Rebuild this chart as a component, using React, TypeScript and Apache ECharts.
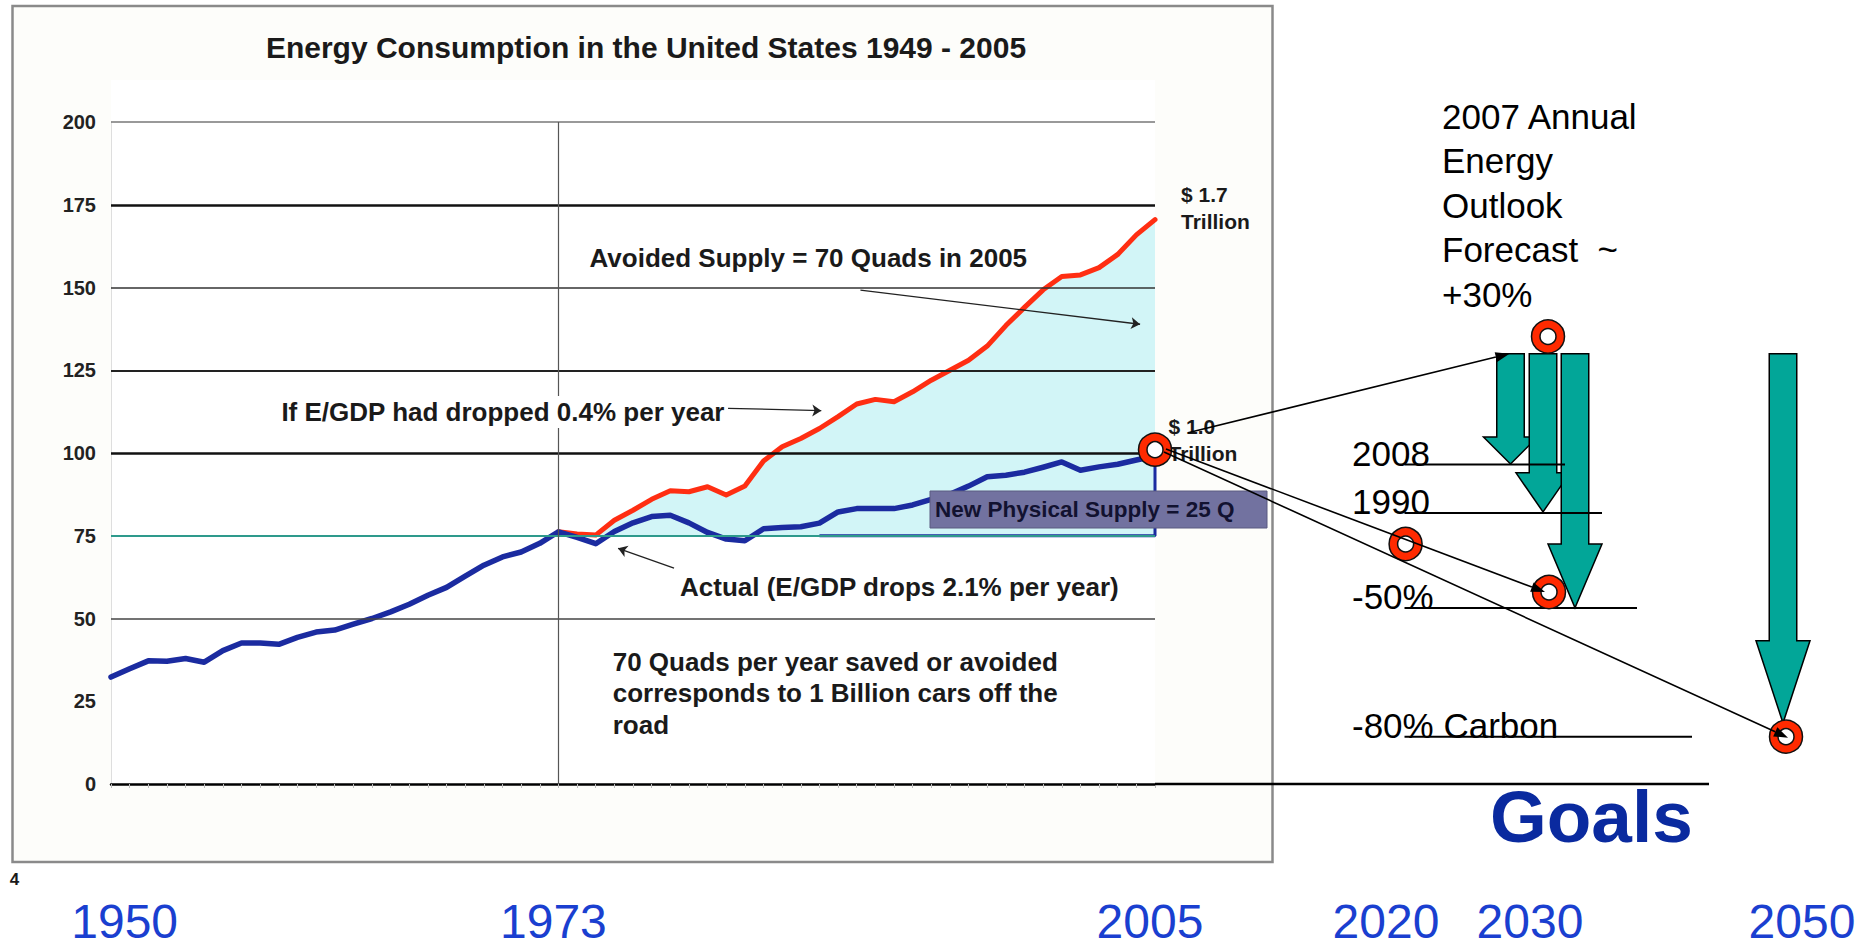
import React, { useEffect, useRef } from 'react';
import * as echarts from 'echarts';

const FONT = "'Liberation Sans', Arial, Helvetica, sans-serif";

// U.S. energy consumption in Quads, one value per year starting 1949
const firstYear = 1949;
const actualUse = [
  32.3, 34.8, 37.2, 37.1, 37.9, 36.8, 40.3, 42.6, 42.6, 42.2,
  44.3, 45.9, 46.5, 48.3, 50.0, 52.0, 54.3, 57.0, 59.4, 62.8,
  66.1, 68.6, 70.1, 72.7, 76.2, 74.5, 72.6, 76.3, 78.9, 80.8,
  81.2, 78.9, 76.0, 74.0, 73.5, 77.1, 77.5, 77.7, 78.8, 82.2,
  83.2, 83.2, 83.2, 84.3, 86.0, 87.5, 90.0, 92.8, 93.3, 94.2,
  95.7, 97.3, 94.8, 95.8, 96.6, 97.9, 99.1,
];

// Consumption from 1973 on if E/GDP had dropped only 0.4% per year
const projectionStartYear = 1973;
const projectedUse = [
  76.2, 75.5, 75.2, 79.7, 82.7, 86.0, 88.6, 88.3, 89.8, 87.3,
  90.0, 97.6, 101.9, 104.4, 107.4, 111.0, 114.8, 116.2, 115.5, 118.5,
  122.0, 125.0, 128.0, 132.3, 138.5, 144.0, 149.3, 153.3, 153.8, 156.0,
  160.0, 165.9, 170.5,
];

// 1973 supply level and the year the new-supply band starts
const supplyBase = 75;
const newSupplyFromYear = 1987;

// Horizontal reference lines across the plot, and the 1973 divider
const gridLevels = [200, 175, 150, 125, 100, 75, 50];
const dividerYear = 1973;

// Year labels under the chart
const historyYearLabels = [1950, 1973, 2005];
const goalYearLabels = ['2020', '2030', '2050'];

// Annotation arrows inside the plot: from [year, Quads] to [year, Quads]
const annotationArrows = [
  [[1989.2, 149.2], [2004.2, 138.9]],
  [[1982.1, 113.5], [1987.1, 112.8]],
  [[1979.2, 65.2], [1976.2, 71.2]],
];

// Marked value at the end of the actual curve
const currentMark = [2005, 101];

// Goals diagram, on the same Quads scale
const forecastLevel = 130;
const forecastMarkLevel = 135.2;
const goalNames = ['2008', '1990', '-50%', '-80% Carbon'];
const goalLevels = [96.5, 81.9, 53.2, 14.3];
const arrowNeckLevels = [104.8, 94.0, 72.5, 43.3];
const arrowTipLevels = [96.7, 82.2, 53.2, 18.4];
const goalMarkLevels = [72.5, 58.0, 14.3];

// Layout of the page around the plot (pixels)
const L = {
  frame: { x: 12.5, y: 6, w: 1260, h: 856 },
  arrowX: [1510.5, 1543, 1575, 1783],
  shaftW: 27.5,
  headW: 54,
  goalLabelX: 1352,
  goalRuleX0: 1404.5,
  goalRuleX1: [1565, 1602, 1637, 1692],
  goalMarkX: [1405.6, 1549, 1786],
  forecastMarkX: 1548,
  goalYearX: [1386, 1530, 1802],
  yearLabelY: 921,
  axisExtendTo: 1709,
};

const gridStyles = [
  { color: '#777', width: 1.5, type: 'solid' },
  { color: '#111', width: 2.5, type: 'solid' },
  { color: '#333', width: 1.5, type: 'solid' },
  { color: '#222', width: 2, type: 'solid' },
  { color: '#111', width: 2.5, type: 'solid' },
  { color: '#2e9a8c', width: 2, type: 'solid' },
  { color: '#444', width: 1.5, type: 'solid' },
];

const BLUE_LINE = '#1b2ba0';
const RED_LINE = '#ff2e12';
const YEAR_BLUE = '#1a3fd0';
const YEAR_SIZE = 48;

const lastYear = firstYear + actualUse.length - 1;
const actualPts = actualUse.map((v, i) => [firstYear + i, v]);
const projectedPts = projectedUse.map((v, i) => [projectionStartYear + i, v]);
const tickYears = actualPts.map((p) => p[0]);

function baseOption(): any {
  return {
    animation: false,
    backgroundColor: 'transparent',
    grid: { left: 111, right: 716, top: 122, bottom: 164, containLabel: false, outerBoundsMode: 'none' },
    xAxis: {
      type: 'value',
      min: firstYear,
      max: lastYear,
      axisLine: { show: true, onZero: false, lineStyle: { color: '#000', width: 2.5 } },
      axisTick: { show: true, customValues: tickYears, length: 4, lineStyle: { color: '#bdbdbd', width: 1 } },
      axisLabel: {
        customValues: historyYearLabels,
        margin: L.yearLabelY - 784 - YEAR_SIZE / 2,
        fontSize: YEAR_SIZE,
        lineHeight: YEAR_SIZE,
        padding: [0, 10, 0, 0],
        fontFamily: FONT,
        color: YEAR_BLUE,
        formatter: (v: number) => String(Math.round(v)),
      },
      splitLine: { show: false },
    },
    yAxis: {
      type: 'value',
      min: 0,
      max: 200,
      interval: 25,
      axisLine: { show: true, lineStyle: { color: '#dedede', width: 1 } },
      axisTick: { show: false },
      axisLabel: { margin: 15, fontSize: 20, fontWeight: 'bold', color: '#222', fontFamily: FONT },
      splitLine: { show: false },
    },
    series: [
      {
        name: 'Avoided supply',
        type: 'line',
        data: projectedPts,
        showSymbol: false,
        silent: true,
        lineStyle: { width: 0 },
        areaStyle: { color: '#d2f5f7', opacity: 1, origin: supplyBase },
        z: 1,
      },
      {
        name: 'Reference lines',
        type: 'line',
        data: actualPts,
        showSymbol: false,
        silent: true,
        lineStyle: { opacity: 0 },
        z: 2,
        markLine: {
          silent: true,
          symbol: ['none', 'none'],
          label: { show: false },
          data: [
            ...gridLevels.map((v, i) => ({ yAxis: v, lineStyle: gridStyles[i] })),
            { xAxis: dividerYear, lineStyle: { color: '#555', width: 1.2, type: 'solid' } },
          ],
        },
      },
      {
        name: 'If E/GDP had dropped 0.4% per year',
        type: 'line',
        data: projectedPts,
        showSymbol: false,
        silent: true,
        lineStyle: { color: RED_LINE, width: 5, join: 'round', cap: 'round' },
        z: 3,
      },
      {
        name: 'New physical supply',
        type: 'line',
        data: [
          [newSupplyFromYear, supplyBase],
          [lastYear, supplyBase],
          [lastYear, actualUse[actualUse.length - 1]],
        ],
        showSymbol: false,
        silent: true,
        lineStyle: { color: BLUE_LINE, width: 3 },
        z: 4,
      },
      {
        name: 'Actual',
        type: 'line',
        data: actualPts,
        showSymbol: false,
        silent: true,
        lineStyle: { color: BLUE_LINE, width: 5.5, join: 'round', cap: 'round' },
        z: 4,
      },
      {
        name: 'Annotation arrows',
        type: 'line',
        data: actualPts,
        showSymbol: false,
        silent: true,
        lineStyle: { opacity: 0 },
        z: 5,
        markLine: {
          silent: true,
          symbol: ['none', 'arrow'],
          symbolSize: 9,
          label: { show: false },
          lineStyle: { color: '#222', width: 1.3, type: 'solid' },
          data: annotationArrows.map((a) => [{ coord: a[0] }, { coord: a[1] }]),
        },
      },
    ],
  };
}

function txt(text: string, x: number, y: number, o: any = {}): any {
  const align = o.align || 'left';
  const va = o.va || 'middle';
  return {
    type: 'text',
    z: o.z ?? 40,
    silent: true,
    style: {
      text,
      x,
      y,
      fill: o.color || '#1a1a1a',
      fontSize: o.size || 26,
      fontWeight: o.weight || 'bold',
      fontFamily: FONT,
      align,
      verticalAlign: va,
      textAlign: align,
      textVerticalAlign: va,
      lineHeight: o.lineHeight,
      backgroundColor: o.bg,
      padding: o.padding,
    },
  };
}

function ring(cx: number, cy: number): any[] {
  return [
    { type: 'circle', z: 60, silent: true, shape: { cx, cy, r: 16.5 }, style: { fill: '#ff2a00', stroke: '#111', lineWidth: 1.5 } },
    { type: 'circle', z: 61, silent: true, shape: { cx, cy, r: 8 }, style: { fill: '#fff', stroke: '#111', lineWidth: 1.5 } },
  ];
}

function arrowLine(x1: number, y1: number, x2: number, y2: number): any[] {
  const dx = x2 - x1;
  const dy = y2 - y1;
  const len = Math.hypot(dx, dy);
  const ux = dx / len;
  const uy = dy / len;
  const head = 14;
  const half = 5;
  const bx = x2 - ux * head;
  const by = y2 - uy * head;
  return [
    { type: 'line', z: 70, silent: true, shape: { x1, y1, x2: bx, y2: by }, style: { stroke: '#000', lineWidth: 1.6 } },
    {
      type: 'polygon',
      z: 71,
      silent: true,
      shape: { points: [[x2, y2], [bx - uy * half, by + ux * half], [bx + uy * half, by - ux * half]] },
      style: { fill: '#000' },
    },
  ];
}

function buildGraphic(chart: any): any[] {
  const py = (v: number) => chart.convertToPixel({ yAxisIndex: 0 }, v) as number;
  const px = (yr: number) => chart.convertToPixel({ xAxisIndex: 0 }, yr) as number;
  const els: any[] = [];

  // slide frame
  els.push({
    type: 'rect',
    z: -5,
    silent: true,
    shape: { x: L.frame.x, y: L.frame.y, width: L.frame.w, height: L.frame.h },
    style: { fill: '#fdfdfa', stroke: '#8a8a8a', lineWidth: 2.5 },
  });
  els.push({
    type: 'rect',
    z: -4,
    silent: true,
    shape: { x: px(firstYear), y: 80, width: px(lastYear) - px(firstYear), height: py(0) - 80 },
    style: { fill: '#ffffff' },
  });

  // zero line continues under the goals
  els.push({
    type: 'line',
    z: 30,
    silent: true,
    shape: { x1: px(lastYear), y1: py(0), x2: L.axisExtendTo, y2: py(0) },
    style: { stroke: '#000', lineWidth: 2.5 },
  });

  els.push(txt('Energy Consumption in the United States 1949 - 2005', 646, 47.5, { size: 30, align: 'center' }));
  els.push(txt('Avoided Supply = 70 Quads in 2005', 589.5, 258));
  els.push(txt('If E/GDP had dropped 0.4% per year', 280.4, 412, { bg: '#ffffff', padding: [3, 1] }));
  els.push(txt('Actual (E/GDP drops 2.1% per year)', 680, 587));
  els.push(
    txt('70 Quads per year saved or avoided\ncorresponds to 1 Billion cars off the\nroad', 612.7, 646, {
      va: 'top',
      lineHeight: 31.5,
    }),
  );
  els.push(txt('$ 1.7\nTrillion', 1181, 181, { size: 21, va: 'top', lineHeight: 27 }));
  els.push(txt('$ 1.0\nTrillion', 1168.5, 413, { size: 21, va: 'top', lineHeight: 27 }));
  els.push(txt('4', 14.5, 879, { size: 17, align: 'center' }));

  // new physical supply box
  els.push({
    type: 'rect',
    z: 45,
    silent: true,
    shape: { x: 930, y: 491, width: 337, height: 37 },
    style: { fill: '#7272a0', stroke: '#5a5a80', lineWidth: 1 },
  });
  els.push(txt('New Physical Supply = 25 Q', 935, 509, { size: 22.5, color: '#121230', z: 46 }));

  // goals diagram: arrows from the forecast level down to each goal
  const topY = py(forecastLevel);
  L.arrowX.forEach((cx, i) => {
    const neck = py(arrowNeckLevels[i]);
    const tip = py(arrowTipLevels[i]);
    const s = L.shaftW / 2;
    const h = L.headW / 2;
    els.push({
      type: 'polygon',
      z: 50 + i,
      silent: true,
      shape: {
        points: [
          [cx - s, topY],
          [cx + s, topY],
          [cx + s, neck],
          [cx + h, neck],
          [cx, tip],
          [cx - h, neck],
          [cx - s, neck],
        ],
      },
      style: { fill: '#02a698', stroke: '#000', lineWidth: 1.5 },
    });
  });

  goalNames.forEach((name, i) => {
    const y = py(goalLevels[i]);
    els.push({
      type: 'line',
      z: 56,
      silent: true,
      shape: { x1: L.goalRuleX0, y1: y, x2: L.goalRuleX1[i], y2: y },
      style: { stroke: '#000', lineWidth: 2 },
    });
    els.push(txt(name, L.goalLabelX, y - 11, { size: 35, weight: 'normal', color: '#000', z: 57 }));
  });

  els.push(
    txt('2007 Annual\nEnergy\nOutlook\nForecast  ~\n+30%', 1442, 93.7, {
      size: 35,
      weight: 'normal',
      color: '#000',
      va: 'top',
      lineHeight: 44.6,
    }),
  );
  els.push(txt('Goals', 1490, 816.5, { size: 73, color: '#0a2a9f' }));
  goalYearLabels.forEach((t, i) => {
    els.push(
      txt(t, L.goalYearX[i], L.yearLabelY, {
        size: YEAR_SIZE,
        weight: 'normal',
        color: YEAR_BLUE,
        align: 'center',
        lineHeight: YEAR_SIZE,
      }),
    );
  });

  // markers and connectors
  const cx0 = px(currentMark[0]);
  const cy0 = py(currentMark[1]);
  els.push(...ring(cx0, cy0));
  els.push(...ring(L.forecastMarkX, py(forecastMarkLevel)));
  goalMarkLevels.forEach((v, i) => els.push(...ring(L.goalMarkX[i], py(v))));

  els.push(...arrowLine(cx0 + 33, py(106.1), L.arrowX[0] - 1, topY));
  els.push(...arrowLine(cx0 + 11, py(101.2), L.goalMarkX[1] - 4, py(goalMarkLevels[1])));
  els.push(...arrowLine(cx0 + 9, py(100.3), L.goalMarkX[2] + 2, py(goalMarkLevels[2] - 0.3)));

  return els;
}

export default function App() {
  const ref = useRef<HTMLDivElement>(null);
  useEffect(() => {
    const el = ref.current;
    if (!el) return;
    const chart = echarts.init(el, null, { renderer: 'svg' });
    chart.setOption(baseOption());
    chart.setOption({ graphic: { elements: buildGraphic(chart) } });
    return () => chart.dispose();
  }, []);
  return (
    <div
      ref={ref}
      style={{ position: 'fixed', left: 0, top: 0, width: 1871, height: 948, background: '#ffffff' }}
    />
  );
}
